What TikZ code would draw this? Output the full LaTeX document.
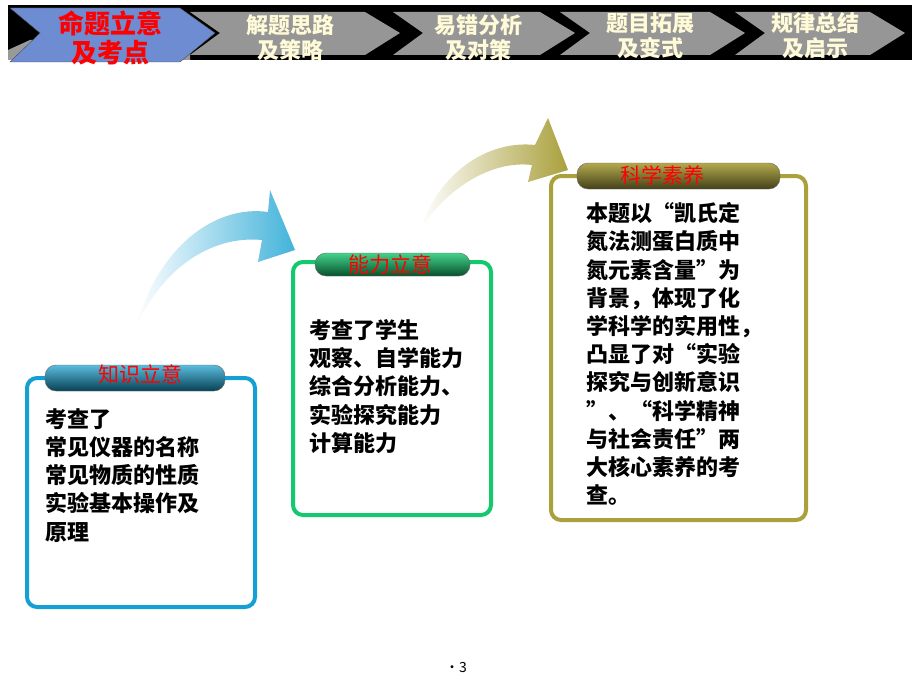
\documentclass[tikz,border=0pt]{standalone}
\usepackage{fontspec}
\setmainfont{Noto Sans CJK SC}
\usetikzlibrary{shapes.geometric}
\definecolor{chev}{RGB}{150,150,150}
\definecolor{cream}{RGB}{255,250,215}
\definecolor{blu}{RGB}{110,140,210}
\definecolor{cyanb}{RGB}{20,160,210}
\definecolor{greenb}{RGB}{20,200,110}
\definecolor{oliveb}{RGB}{170,160,60}
\tikzset{
 chevtxt/.style={align=center,font=\bfseries\fontsize{22}{25}\selectfont,text=cream},
 body/.style={anchor=north west,align=left,font=\bfseries\fontsize{22}{28.2}\selectfont},
 tab/.style={rounded corners=11pt,draw=black!60},
 tabtxt/.style={text=red,font=\fontsize{21}{22}\selectfont}
}
\begin{document}
\begin{tikzpicture}[x=1pt,y=-1pt]
\useasboundingbox (0,0) rectangle (920,690);
\fill[white] (0,0) rectangle (920,690);
% top bar
\fill[black] (8,5) rectangle (912,60);
\foreach \a/\b in {190/400,393/575,560/745,735/905}{
 \fill[chev] (\a,12) -- (\b-35,12) -- (\b,33) -- (\b-35,55) -- (\a,55) -- (\a+30,33) -- cycle;}
\fill[black!40] (8,50) -- (30,40) -- (190,40) -- (190,60) -- (8,60) -- cycle;
\fill[blu,draw=black!70] (10,8) -- (180,8) -- (215,33) -- (180,62) -- (10,62) -- (40,33) -- cycle;
\node[align=center,text=red,font=\bfseries\fontsize{26}{29}\selectfont] (t1) at (110,38) {命题立意\\及考点};
\node[chevtxt] (t2) at (290,38) {解题思路\\及策略};
\node[chevtxt] (t3) at (478,38) {易错分析\\及对策};
\node[chevtxt] (t4) at (650,36) {题目拓展\\及变式};
\node[chevtxt] (t5) at (815,36) {规律总结\\及启示};
% arrows
\shade[left color=white,right color=cyanb!80]
 (135,330) .. controls (160,240) and (220,205) .. (268,212) -- (270,190) -- (295,250) -- (258,262) -- (262,240)
 .. controls (210,235) and (160,270) .. (135,330) -- cycle;
\shade[left color=white,right color=oliveb]
 (420,230) .. controls (440,170) and (490,140) .. (535,145) -- (548,118) -- (568,170) -- (528,182) -- (532,165)
 .. controls (490,160) and (445,190) .. (420,230) -- cycle;
% boxes
\draw[cyanb,line width=4pt,rounded corners=10pt] (27,378) rectangle (255,607);
\draw[greenb,line width=4pt,rounded corners=10pt] (293,262) rectangle (491,515);
\draw[oliveb,line width=4pt,rounded corners=10pt] (551,176) rectangle (806,520);
\shade[tab,top color=cyanb!70,bottom color=cyanb!40!black] (45,365) rectangle (225,391);
\node[tabtxt] (h1) at (140,374) {知识立意};
\shade[tab,top color=greenb!80,bottom color=greenb!40!black] (315,253) rectangle (470,276);
\node[tabtxt] (h2) at (390,264) {能力立意};
\shade[tab,top color=oliveb!90,bottom color=oliveb!40!black] (577,163) rectangle (780,189);
\node[tabtxt] (h3) at (662,175) {科学素养};
\node[body] (b1) at (42,405) {考查了\\常见仪器的名称\\常见物质的性质\\实验基本操作及\\原理};
\node[body] (b2) at (306,316) {考查了学生\\观察、自学能力\\综合分析能力、\\实验探究能力\\计算能力};
\node[body] (b3) at (583,199) {本题以“凯氏定\\氮法测蛋白质中\\氮元素含量”为\\背景，体现了化\\学科学的实用性，\\凸显了对“实验\\探究与创新意识\\”、“科学精神\\与社会责任”两\\大核心素养的考\\查。};
\node[font=\fontsize{14}{16}\selectfont] (pg) at (456,668) {•3};
\end{tikzpicture}
\end{document}
